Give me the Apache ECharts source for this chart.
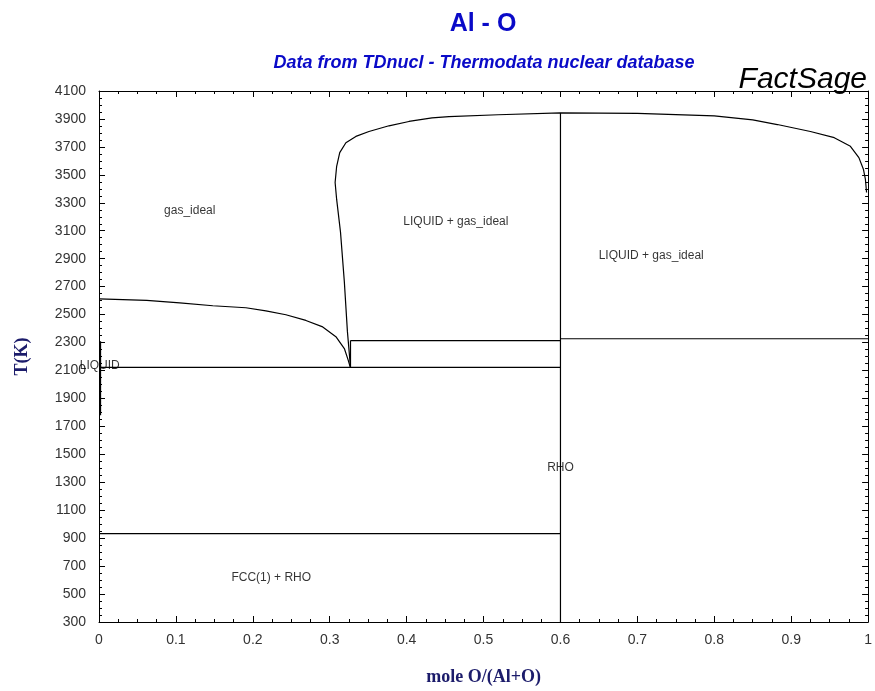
<!DOCTYPE html>
<html>
<head>
<meta charset="utf-8">
<script src="https://cdn.jsdelivr.net/npm/echarts@6/dist/echarts.min.js"></script>
<style>
html,body{margin:0;padding:0;background:#fff;}
#chart{width:875px;height:691px;}
</style>
</head>
<body>
<div id="chart"></div>
<script>
// ---- data (x = mole O/(Al+O), y = T in K) ----
var xTicks = [0, 0.1, 0.2, 0.3, 0.4, 0.5, 0.6, 0.7, 0.8, 0.9, 1];
var yTicks = [300, 500, 700, 900, 1100, 1300, 1500, 1700, 1900, 2100, 2300, 2500, 2700, 2900, 3100, 3300, 3500, 3700, 3900, 4100];

var gasLiquidAlRich = [[0, 2613], [0.062, 2601], [0.105, 2584], [0.148, 2563], [0.191, 2549], [0.217, 2527],
  [0.243, 2499], [0.269, 2458], [0.290, 2414], [0.308, 2342], [0.319, 2257], [0.324, 2174], [0.326, 2136], [0.327, 2122]];
var gasLiquidDome = [[0.327, 2122], [0.323, 2378], [0.319, 2734], [0.314, 3090], [0.309, 3324], [0.307, 3445],
  [0.309, 3561], [0.313, 3659], [0.321, 3730], [0.334, 3775], [0.351, 3810], [0.377, 3851], [0.403, 3882],
  [0.433, 3908], [0.455, 3917], [0.519, 3930], [0.6, 3943], [0.7, 3940], [0.8, 3922], [0.85, 3893],
  [0.882, 3860], [0.925, 3810], [0.956, 3766], [0.977, 3704], [0.988, 3623], [0.994, 3538], [0.9965, 3467], [0.998, 3374]];
var liquidAlEdge = [[0.002, 2310], [0.002, 1780]];
var monotecticLine = [[0, 2122], [0.6, 2122]];
var alMeltingLine = [[0, 933], [0.6, 933]];
var eutecticLineLeft = [[0.327, 2314], [0.6, 2314]];
var rhoMeltingLine = [[0.6, 2327], [1, 2327]];
var rhoLine = [[0.6, 300], [0.6, 3943]];
var joinLine = [[0.327, 2122], [0.327, 2314]];

var regionNames = ['gas_ideal', 'LIQUID + gas_ideal', 'LIQUID + gas_ideal', 'LIQUID', 'RHO', 'FCC(1) + RHO'];
var regionX = [0.118, 0.464, 0.718, 0.001, 0.6, 0.224];
var regionY = [3246, 3168, 2919, 2136, 1403, 620];

// ---- chart ----
var chart = echarts.init(document.getElementById('chart'), null, {renderer: 'canvas'});
var lineSets = [gasLiquidAlRich, gasLiquidDome, liquidAlEdge, monotecticLine, alMeltingLine,
  eutecticLineLeft, rhoMeltingLine, rhoLine, joinLine];
var series = lineSets.map(function (d) {
  return {
    type: 'line', data: d, showSymbol: false, symbol: 'none', silent: true, animation: false,
    lineStyle: {color: '#000', width: 1.2}, z: 3
  };
});
series.push({
  type: 'scatter', symbolSize: 0, animation: false, silent: true,
  data: regionNames.map(function (n, i) { return {value: [regionX[i], regionY[i]], name: n}; }),
  label: {show: true, position: 'inside', formatter: '{b}', color: '#000',
    fontFamily: 'Liberation Sans, Arial, sans-serif', fontSize: 12}
});

var tickFont = {color: '#333', fontFamily: 'Liberation Sans, Arial, sans-serif', fontSize: 14};
var nameFont = {color: '#1c1c6b', fontFamily: 'Liberation Serif, Times New Roman, serif', fontWeight: 'bold', fontSize: 18};
function xAx(pos, labels) {
  return {
    type: 'value', min: 0, max: 1, interval: 0.1, position: pos,
    axisLine: {show: true, onZero: false, lineStyle: {color: '#000', width: 1}},
    axisTick: {show: true, inside: true, length: 6, lineStyle: {color: '#000'}},
    minorTick: {show: true, splitNumber: 4, length: 3, lineStyle: {color: '#000'}},
    splitLine: {show: false},
    axisLabel: Object.assign({show: labels, margin: 11,
      formatter: function (v) { return String(Math.round(v * 10) / 10); }}, tickFont),
    name: labels ? 'mole O/(Al+O)' : '',
    nameLocation: 'middle', nameGap: 46,
    nameTextStyle: nameFont
  };
}
function yAx(pos, labels) {
  return {
    type: 'value', min: 300, max: 4100, interval: 200, position: pos,
    axisLine: {show: true, onZero: false, lineStyle: {color: '#000', width: 1}},
    axisTick: {show: true, inside: true, length: 6, lineStyle: {color: '#000'}},
    minorTick: {show: true, splitNumber: 4, length: 3, lineStyle: {color: '#000'}},
    splitLine: {show: false},
    axisLabel: Object.assign({show: labels, margin: 13,
      formatter: function (v) { return String(Math.round(v)); }}, tickFont),
    name: labels ? 'T(K)' : '',
    nameLocation: 'middle', nameGap: 68, nameRotate: 90,
    nameTextStyle: nameFont
  };
}

chart.setOption({
  backgroundColor: '#fff',
  animation: false,
  title: [
    {text: 'Al - O', left: 478, top: 7, textAlign: 'center',
      textStyle: {color: '#0a0ac8', fontFamily: 'Liberation Sans, Arial, sans-serif', fontWeight: 'bold', fontSize: 25}},
    {text: 'Data from TDnucl - Thermodata nuclear database', left: 479, top: 49, textAlign: 'center',
      textStyle: {color: '#0a0ac8', fontFamily: 'Liberation Sans, Arial, sans-serif', fontWeight: 'bold', fontStyle: 'italic', fontSize: 18}},
    {text: 'FactSage', right: 3, top: 60,
      textStyle: {color: '#000', fontFamily: 'Liberation Sans, Arial, sans-serif', fontStyle: 'italic', fontSize: 30, fontWeight: 'normal'}}
  ],
  grid: {left: 99, right: 4, top: 91, bottom: 66, containLabel: false},
  xAxis: [xAx('bottom', true), xAx('top', false)],
  yAxis: [yAx('left', true), yAx('right', false)],
  series: series
});
</script>
</body>
</html>
